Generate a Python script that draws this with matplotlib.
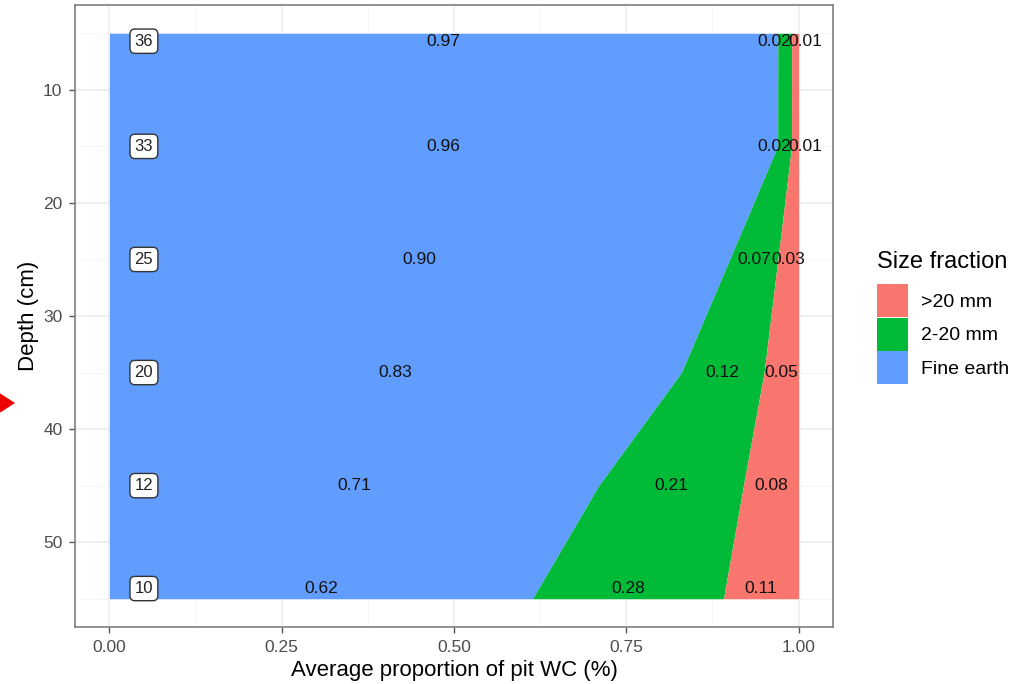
import numpy as np
import matplotlib
matplotlib.use("Agg")
import matplotlib.pyplot as plt
from matplotlib.patches import Patch, Polygon

plt.rcParams['font.family'] = ['Liberation Sans', 'DejaVu Sans']

depth = [5, 15, 25, 35, 45, 55]
fine_earth = [0.97, 0.96, 0.90, 0.83, 0.71, 0.62]
mid_2_20 = [0.02, 0.02, 0.07, 0.12, 0.21, 0.28]
coarse_20 = [0.01, 0.01, 0.03, 0.05, 0.08, 0.11]
n_pits = [36, 33, 25, 20, 12, 10]
series_names = ["Fine earth", "2-20 mm", ">20 mm"]
series_colors = ["#619CFF", "#00BA38", "#F8766D"]
x_ticks = [0.00, 0.25, 0.50, 0.75, 1.00]
x_tick_labels = ["0.00", "0.25", "0.50", "0.75", "1.00"]
y_ticks = [10, 20, 30, 40, 50]

fig = plt.figure(figsize=(10.26, 6.84), dpi=100)
ax = fig.add_axes([75/1026, 1-627/684, (833-75)/1026, (627-5)/684])

vals = np.array([fine_earth, mid_2_20, coarse_20], dtype=float)
tot = vals.sum(axis=0)
norm = vals / tot
cum = np.vstack([np.zeros(len(depth)), np.cumsum(norm, axis=0)])
d = np.array(depth, dtype=float)

for i in range(3):
    ax.fill_betweenx(d, cum[i], cum[i+1], color=series_colors[i], lw=0, zorder=2)

# label positions: segment midpoints, kept inside the panel band
label_d = np.clip(d, d.min() + 0.7, d.max() - 0.9)
mids = (cum[:-1] + cum[1:]) / 2
# spread labels that would collide
for j in range(len(depth)):
    gap = mids[2, j] - mids[1, j]
    if gap < 0.045:
        push = (0.045 - gap) / 2
        mids[1, j] -= push
        mids[2, j] += push

for i in range(3):
    for j in range(len(depth)):
        ax.text(mids[i, j], label_d[j], f"{vals[i, j]:.2f}", ha='center', va='center',
                fontsize=12.5, color='#111111', zorder=4)

for j in range(len(depth)):
    ax.text(0.05, label_d[j], str(n_pits[j]), ha='center', va='center', fontsize=12,
            color='#222222', zorder=5,
            bbox=dict(boxstyle='round,pad=0.28,rounding_size=0.3', fc='white',
                      ec='#333333', lw=1))

ax.set_xlim(-0.05, 1.05)
ax.set_ylim(57.5, 2.5)
ax.set_xticks(x_ticks)
ax.set_xticklabels(x_tick_labels)
ax.set_yticks(y_ticks)
ax.set_xticks([0.125, 0.375, 0.625, 0.875], minor=True)
ax.set_yticks([5, 15, 25, 35, 45, 55], minor=True)
ax.grid(which='major', color='#EBEBEB', lw=1.1, zorder=0)
ax.grid(which='minor', color='#F4F4F4', lw=0.6, zorder=0)
ax.set_axisbelow(True)
ax.tick_params(which='minor', length=0)
ax.tick_params(which='major', length=4, color='#555555', width=1,
               labelsize=12.5, labelcolor='#4D4D4D', pad=5)
for s in ax.spines.values():
    s.set_color('#7F7F7F')
    s.set_linewidth(1.2)

ax.set_xlabel("Average proportion of pit WC (%)", fontsize=16, labelpad=4)
ax.set_ylabel("Depth (cm)", fontsize=16, labelpad=3)

handles = [Patch(fc=series_colors[i], ec='none') for i in [2, 1, 0]]
labels = [series_names[i] for i in [2, 1, 0]]
leg = fig.legend(handles, labels, title="Size fraction", loc='upper left',
                 bbox_to_anchor=(877/1026, 1-251/684), frameon=False,
                 fontsize=14, title_fontsize=17, handlelength=1.6,
                 handleheight=2.25, labelspacing=0.02, handletextpad=0.65,
                 borderaxespad=0, borderpad=0)
leg._legend_box.align = "left"
leg._legend_box.sep = 8

fig.patches.append(Polygon([(-0.002, 1-392/684), (15/1026, 1-403/684),
                            (-0.002, 1-414/684)], closed=True,
                           transform=fig.transFigure, fc='#EE0000', ec='none'))

fig.savefig("out.png", dpi=100)
